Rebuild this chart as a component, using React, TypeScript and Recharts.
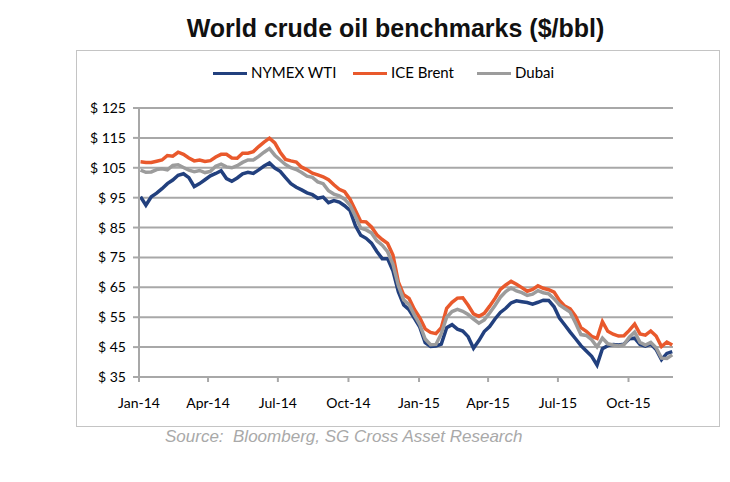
import React from 'react'
import { LineChart, Line, XAxis, YAxis, CartesianGrid } from 'recharts'

// weekly closes, first one on Fri 3 Jan 2014
const firstWeek = '2014-01-03'
const axisStart = '2014-01-01'
const axisEnd = '2015-11-28'

const wti = [
  95.3, 92.5, 95.3, 96.5, 98.0, 99.7, 100.9, 102.5, 103.0, 101.7,
  98.7, 99.7, 101.0, 102.3, 103.1, 104.0, 101.4, 100.5, 101.6, 103.0,
  103.5, 103.1, 104.3, 105.6, 106.6, 104.9, 103.8, 101.7, 99.7, 98.5,
  97.6, 96.6, 96.0, 94.8, 95.2, 93.3, 94.0, 93.5, 92.3, 90.7,
  85.7, 82.4, 81.4, 79.8, 77.0, 74.6, 74.6, 70.5, 63.5, 59.1,
  57.5, 54.6, 51.7, 46.5, 45.2, 45.4, 46.0, 51.5, 52.5, 51.0,
  50.4, 48.5, 44.6, 47.2, 50.2, 51.9, 54.4, 56.6, 58.0, 59.8,
  60.5, 60.2, 59.9, 59.4, 60.0, 60.7, 60.6, 58.5, 54.7, 52.4,
  50.0, 47.8, 45.5, 43.7, 41.9, 39.0, 44.5, 45.5, 45.9, 45.7,
  46.0, 47.8, 48.0, 45.9, 45.3, 46.0, 44.2, 40.8, 42.9, 43.5,
]

const brent = [
  107.0, 106.8, 106.8, 107.2, 107.6, 109.1, 108.9, 110.2, 109.5, 108.3,
  107.3, 107.6, 107.1, 107.4, 108.6, 109.5, 109.5, 108.3, 108.2, 109.9,
  109.9, 110.4, 112.1, 113.6, 114.9, 113.3, 110.2, 107.8, 107.3, 106.9,
  105.2, 104.3, 103.2, 102.6, 102.0, 101.0, 99.3, 97.8, 97.0, 94.5,
  90.8, 87.0, 86.9, 85.2, 82.6, 81.0, 79.7, 75.8, 66.8, 62.5,
  61.3, 57.6, 54.8, 51.1, 49.9, 49.5, 51.5, 58.0, 60.0, 61.4,
  61.5, 59.0, 56.1, 55.3, 56.3, 58.7, 61.3, 64.3, 65.8, 67.0,
  66.0, 64.9, 63.7, 64.3, 65.5, 64.7, 64.2, 63.4, 60.6, 58.7,
  57.8, 55.4, 51.5, 50.3, 48.6, 47.9, 53.5, 50.3, 49.3, 48.7,
  48.8, 50.6, 52.7, 49.4, 49.0, 50.4, 48.7, 45.2, 46.7, 45.7,
]

const dubai = [
  104.2, 103.5, 103.6, 104.4, 104.7, 104.3, 105.8, 106.0, 105.1, 104.2,
  103.7, 104.1, 103.4, 103.8, 105.5, 106.2, 105.3, 105.0, 105.7, 106.8,
  107.6, 107.6, 108.8, 110.2, 111.4, 109.2, 107.6, 106.1, 105.0, 104.4,
  103.4, 102.2, 101.8, 100.3, 99.7, 97.3, 96.2, 95.6, 94.5, 92.5,
  88.8, 84.8, 84.2, 83.2, 80.6, 79.1, 76.9, 72.7, 65.6, 60.8,
  59.2, 55.7, 52.5, 47.7, 45.8, 45.9, 49.5, 55.0, 56.9, 57.6,
  57.0, 55.9, 54.4, 53.0, 54.1, 56.4, 58.9, 61.7, 63.6, 64.8,
  63.8, 63.2, 62.3, 62.7, 63.9, 63.2, 62.8, 61.2, 59.1, 57.9,
  56.7, 53.1, 49.2, 48.9, 47.5, 45.1, 48.0, 46.1, 45.7, 45.4,
  45.8, 48.3, 50.0, 46.6, 45.7, 46.6, 44.8, 41.3, 41.2, 42.4,
]

const yTicks = [35, 45, 55, 65, 75, 85, 95, 105, 115, 125]
const xTickDates = ['2014-01-01', '2014-04-01', '2014-07-01', '2014-10-01', '2015-01-01', '2015-04-01', '2015-07-01', '2015-10-01']
const xTickLabels = ['Jan-14', 'Apr-14', 'Jul-14', 'Oct-14', 'Jan-15', 'Apr-15', 'Jul-15', 'Oct-15']

const seriesNames = ['NYMEX WTI', 'ICE Brent', 'Dubai']
const seriesColors = ['#22407e', '#e9592c', '#9c9c9c']

const DAY = 24 * 3600 * 1000
const xTicks = xTickDates.map(d => Date.parse(d))

const chartData = wti.map((v, i) => ({
  t: Date.parse(firstWeek) + i * 7 * DAY,
  wti: v,
  brent: brent[i],
  dubai: dubai[i],
}))

const axisFont = { fontFamily: 'Lato, sans-serif', fontSize: 14, fill: '#000' }

function ChartLegend() {
  const items = [
    { left: 213, text: 251 },
    { left: 353, text: 391 },
    { left: 477, text: 515 },
  ]
  return (
    <div>
      {items.map((it, i) => (
        <React.Fragment key={seriesNames[i]}>
          <div style={{ position: 'absolute', left: it.left, top: 72, width: 34, height: 3, background: seriesColors[i] }} />
          <div style={{ position: 'absolute', left: it.text, top: 63, fontFamily: 'Lato, sans-serif', fontSize: 15, color: '#000', whiteSpace: 'pre' }}>
            {seriesNames[i]}
          </div>
        </React.Fragment>
      ))}
    </div>
  )
}

export default function App() {
  return (
    <div style={{ position: 'absolute', left: 0, top: 0, width: 730, height: 482, background: '#fff', overflow: 'hidden' }}>
      <div style={{ position: 'absolute', left: 0, top: 14, width: 791, textAlign: 'center', fontFamily: '"Liberation Sans", Arial, sans-serif', fontWeight: 'bold', fontSize: 25, color: '#111' }}>
        World crude oil benchmarks ($/bbl)
      </div>
      <div style={{ position: 'absolute', left: 76, top: 50, width: 642, height: 375, border: '1px solid #c4c4c4' }} />
      <ChartLegend />
      <div style={{ position: 'absolute', left: 0, top: 0 }}>
        <LineChart width={730} height={482} data={chartData} margin={{ top: 108, right: 57, bottom: 75, left: 79 }}>
          <CartesianGrid vertical={false} stroke="#a8a8a8" strokeWidth={2} />
          <XAxis
            dataKey="t"
            type="number"
            scale="time"
            domain={[Date.parse(axisStart), Date.parse(axisEnd)]}
            ticks={xTicks}
            tickFormatter={(v: number) => xTickLabels[xTicks.indexOf(v)] ?? ''}
            height={30}
            tickSize={5}
            tickMargin={16}
            stroke="#a8a8a8"
            strokeWidth={2}
            tick={axisFont}
            interval={0}
          />
          <YAxis
            domain={[35, 125]}
            ticks={yTicks}
            tickFormatter={(v: number) => `$ ${v}`}
            width={60}
            tickSize={6}
            tickMargin={7}
            stroke="#a8a8a8"
            strokeWidth={2}
            tick={axisFont}
            interval={0}
          />
          <Line type="linear" dataKey="wti" name="NYMEX WTI" stroke={seriesColors[0]} strokeWidth={3.5} dot={false} isAnimationActive={false} />
          <Line type="linear" dataKey="brent" name="ICE Brent" stroke={seriesColors[1]} strokeWidth={3.5} dot={false} isAnimationActive={false} />
          <Line type="linear" dataKey="dubai" name="Dubai" stroke={seriesColors[2]} strokeWidth={3.5} dot={false} isAnimationActive={false} />
        </LineChart>
      </div>
      <div style={{ position: 'absolute', left: 165, top: 427, fontFamily: '"Liberation Sans", Arial, sans-serif', fontStyle: 'italic', fontSize: 17, color: '#a9a9a9', whiteSpace: 'pre' }}>
        {'Source:  Bloomberg, SG Cross Asset Research'}
      </div>
    </div>
  )
}
